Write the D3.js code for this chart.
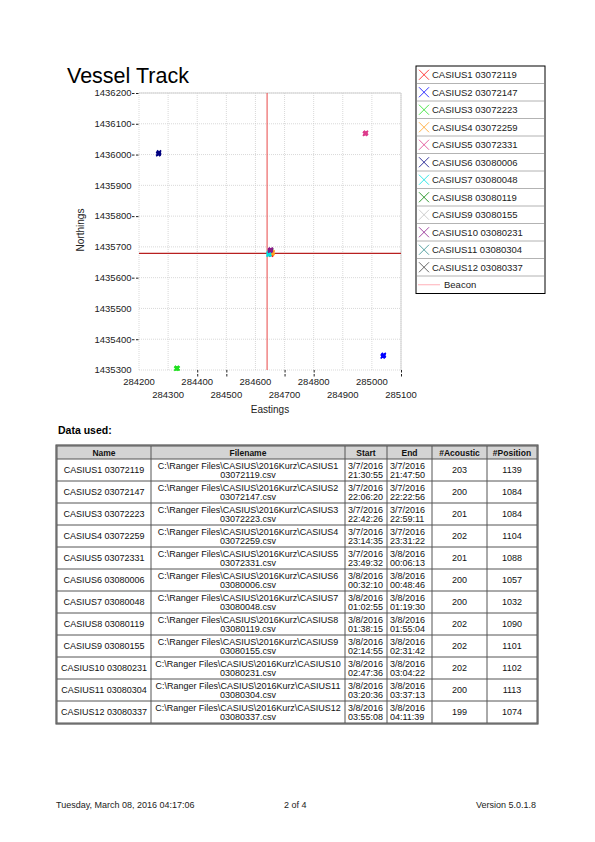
<!DOCTYPE html>
<html><head><meta charset="utf-8">
<script src="https://cdn.jsdelivr.net/npm/d3@7"></script>
<style>
body{margin:0;background:#fff;}
svg{display:block;font-family:"Liberation Sans",Arial,sans-serif;}
</style></head>
<body><svg id="c" width="595" height="842"></svg>
<script>
// ---------- chart data ----------
const eastTicks = [284200,284300,284400,284500,284600,284700,284800,284900,285000,285100];
const northTicks = [1435300,1435400,1435500,1435600,1435700,1435800,1435900,1436000,1436100,1436200];
const northTicksMarked = [1436200,1436100,1436000,1435800,1435600,1435400];
const eastTicksMarked = [284400,284500,284700,284800,285100];
const seriesNames = ["CASIUS1 03072119","CASIUS2 03072147","CASIUS3 03072223","CASIUS4 03072259","CASIUS5 03072331","CASIUS6 03080006","CASIUS7 03080048","CASIUS8 03080119","CASIUS9 03080155","CASIUS10 03080231","CASIUS11 03080304","CASIUS12 03080337"];
const seriesColors = ["#ff1010","#0000ff","#20e020","#ffa020","#dd3c8c","#000080","#00e0e0","#008000","#c0c0c0","#8a1a8a","#2e8b8b","#404040"];
const seriesEastings = [
  [284652,284655,284654,284656],
  [285037,285040,285039,285041],
  [284328,284331,284333,284330],
  [284656,284658,284657,284659],
  [284976,284979,284978,284980],
  [284266,284268,284269,284267],
  [284645,284647,284646,284648],
  [284650,284652,284651,284653],
  [284649,284651,284650,284652],
  [284650,284652,284651,284653],
  [284648,284650,284649,284651],
  [284651,284653,284652,284654]
];
const seriesNorthings = [
  [1435676,1435678,1435675,1435679],
  [1435344,1435347,1435346,1435349],
  [1435304,1435306,1435305,1435307],
  [1435679,1435681,1435678,1435682],
  [1436067,1436070,1436069,1436071],
  [1436001,1436004,1436007,1436003],
  [1435675,1435677,1435679,1435676],
  [1435683,1435685,1435684,1435686],
  [1435682,1435684,1435683,1435685],
  [1435688,1435690,1435689,1435691],
  [1435680,1435682,1435681,1435683],
  [1435686,1435688,1435687,1435689]
];
const beaconEasting = 284640;
const beaconNorthing = 1435679;

// ---------- table data ----------
const tableHeaders = ["Name","Filename","Start","End","#Acoustic","#Position"];
const tableFiles = ["C:\\Ranger Files\\CASIUS\\2016Kurz\\CASIUS1","C:\\Ranger Files\\CASIUS\\2016Kurz\\CASIUS2","C:\\Ranger Files\\CASIUS\\2016Kurz\\CASIUS3","C:\\Ranger Files\\CASIUS\\2016Kurz\\CASIUS4","C:\\Ranger Files\\CASIUS\\2016Kurz\\CASIUS5","C:\\Ranger Files\\CASIUS\\2016Kurz\\CASIUS6","C:\\Ranger Files\\CASIUS\\2016Kurz\\CASIUS7","C:\\Ranger Files\\CASIUS\\2016Kurz\\CASIUS8","C:\\Ranger Files\\CASIUS\\2016Kurz\\CASIUS9","C:\\Ranger Files\\CASIUS\\2016Kurz\\CASIUS10","C:\\Ranger Files\\CASIUS\\2016Kurz\\CASIUS11","C:\\Ranger Files\\CASIUS\\2016Kurz\\CASIUS12"];
const tableFiles2 = ["03072119.csv","03072147.csv","03072223.csv","03072259.csv","03072331.csv","03080006.csv","03080048.csv","03080119.csv","03080155.csv","03080231.csv","03080304.csv","03080337.csv"];
const startDates = ["3/7/2016","3/7/2016","3/7/2016","3/7/2016","3/7/2016","3/8/2016","3/8/2016","3/8/2016","3/8/2016","3/8/2016","3/8/2016","3/8/2016"];
const startTimes = ["21:30:55","22:06:20","22:42:26","23:14:35","23:49:32","00:32:10","01:02:55","01:38:15","02:14:55","02:47:36","03:20:36","03:55:08"];
const endDates = ["3/7/2016","3/7/2016","3/7/2016","3/7/2016","3/8/2016","3/8/2016","3/8/2016","3/8/2016","3/8/2016","3/8/2016","3/8/2016","3/8/2016"];
const endTimes = ["21:47:50","22:22:56","22:59:11","23:31:22","00:06:13","00:48:46","01:19:30","01:55:04","02:31:42","03:04:22","03:37:13","04:11:39"];
const acousticCounts = [203,200,201,202,201,200,200,202,202,202,200,199];
const positionCounts = [1139,1084,1084,1104,1088,1057,1032,1090,1101,1102,1113,1074];

const footerLeft = "Tuesday, March 08, 2016 04:17:06";
const footerMid = "2 of 4";
const footerRight = "Version 5.0.1.8";

// ---------- drawing ----------
const svg = d3.select("#c");
svg.append("rect").attr("width",595).attr("height",842).attr("fill","#fff");

const x = d3.scaleLinear().domain([284200,285100]).range([139,401]);
const y = d3.scaleLinear().domain([1435300,1436200]).range([370,93]);

svg.append("text").attr("x",67).attr("y",82.5).attr("font-size",21.5).attr("fill","#000").text("Vessel Track");

const g = svg.append("g");
// grid
g.selectAll(".vg").data(eastTicks).join("line")
  .attr("x1",d=>x(d)).attr("x2",d=>x(d)).attr("y1",y(1436200)).attr("y2",y(1435300))
  .attr("stroke","#c8c8c8").attr("stroke-width",0.7).attr("stroke-dasharray","1,1");
g.selectAll(".hg").data(northTicks).join("line")
  .attr("y1",d=>y(d)).attr("y2",d=>y(d)).attr("x1",x(284200)).attr("x2",x(285100))
  .attr("stroke","#c8c8c8").attr("stroke-width",0.7).attr("stroke-dasharray","1,1");
// top & right border
g.append("path").attr("d",`M${x(284200)},${y(1436200)}H${x(285100)}V${y(1435300)}`)
  .attr("fill","none").attr("stroke","#d0d0d0").attr("stroke-width",1);

// y axis labels
g.selectAll(".yl").data(northTicks).join("text")
  .attr("x",131.5).attr("y",d=>y(d)+3.3).attr("text-anchor","end").attr("font-size",9.5).attr("fill","#222")
  .text(d=>d);
g.selectAll(".yt").data(northTicksMarked).join("line")
  .attr("x1",132).attr("x2",139).attr("y1",d=>y(d)+0.5).attr("y2",d=>y(d)+0.5)
  .attr("stroke","#222").attr("stroke-width",1).attr("stroke-dasharray","2.5,1.5");
// x axis labels (alternating rows)
g.selectAll(".xl").data(eastTicks).join("text")
  .attr("x",d=>x(d)).attr("y",(d,i)=> i%2===0 ? 385 : 398).attr("text-anchor","middle")
  .attr("font-size",9.5).attr("fill","#222").text(d=>d);
g.selectAll(".xt").data(eastTicksMarked).join("line")
  .attr("x1",d=>x(d)+0.5).attr("x2",d=>x(d)+0.5).attr("y1",370).attr("y2",377)
  .attr("stroke","#222").attr("stroke-width",1).attr("stroke-dasharray","2.5,1.5");

svg.append("text").attr("transform","translate(84,230) rotate(-90)").attr("text-anchor","middle")
  .attr("font-size",10).attr("fill","#222").text("Northings");
svg.append("text").attr("x",270).attr("y",413).attr("text-anchor","middle")
  .attr("font-size",10).attr("fill","#222").text("Eastings");

// beacon lines
g.append("line").attr("x1",x(beaconEasting)).attr("x2",x(beaconEasting)).attr("y1",y(1436200)).attr("y2",y(1435300))
  .attr("stroke","#e84848").attr("stroke-width",1);
g.append("line").attr("y1",y(beaconNorthing)).attr("y2",y(beaconNorthing)).attr("x1",x(284200)).attr("x2",x(285100))
  .attr("stroke","#b82020").attr("stroke-width",1.2);

// points (X markers)
const drawOrder = [7,8,10,11,0,3,6,9,1,2,4,5];
drawOrder.forEach(si=>{
  const pts = seriesEastings[si].map((e,k)=>[e,seriesNorthings[si][k]]);
  g.selectAll(null).data(pts).join("path")
    .attr("d",d=>{const cx=x(d[0]),cy=y(d[1]),r=2;return `M${cx-r},${cy-r}L${cx+r},${cy+r}M${cx-r},${cy+r}L${cx+r},${cy-r}`;})
    .attr("stroke",seriesColors[si]).attr("stroke-width",1.6).attr("fill","none");
});

// legend
const lg = svg.append("g");
const lTop = 66, lRow = 17.5, lLeft = 416, lRight = 545;
const legendItems = seriesNames.concat(["Beacon"]);
lg.append("rect").attr("x",lLeft).attr("y",lTop).attr("width",lRight-lLeft).attr("height",lRow*legendItems.length)
  .attr("fill","#fff").attr("stroke","#000").attr("stroke-width",1);
lg.selectAll(".sep").data(d3.range(1,legendItems.length)).join("line")
  .attr("x1",lLeft+1).attr("x2",lRight-1).attr("y1",d=>lTop+d*lRow).attr("y2",d=>lTop+d*lRow)
  .attr("stroke","#a0a0a0").attr("stroke-width",0.8);
seriesNames.forEach((n,i)=>{
  const cy = lTop + lRow*i + lRow/2, cx = 424, r = 5;
  lg.append("path").attr("d",`M${cx-r},${cy-r}L${cx+r},${cy+r}M${cx-r},${cy+r}L${cx+r},${cy-r}`)
    .attr("stroke",seriesColors[i]).attr("stroke-width",0.8).attr("fill","none");
  lg.append("text").attr("x",432).attr("y",cy+3.3).attr("font-size",9.5).attr("fill","#222").text(n);
});
{
  const cy = lTop + lRow*seriesNames.length + lRow/2;
  lg.append("line").attr("x1",418).attr("x2",440).attr("y1",cy).attr("y2",cy).attr("stroke","#ffb0b8").attr("stroke-width",1);
  lg.append("text").attr("x",444).attr("y",cy+3.3).attr("font-size",9.5).attr("fill","#222").text("Beacon");
}

// data used
svg.append("text").attr("x",58).attr("y",434).attr("font-size",10.5).attr("font-weight","bold").text("Data used:");

// table
const colEdges = [57,151,345,387,432,487,537];
const tTop = 446, hH = 13, rH = 22;
const tg = svg.append("g").attr("font-size",9).attr("fill","#111");
// header
tg.append("rect").attr("x",colEdges[0]).attr("y",tTop).attr("width",colEdges[6]-colEdges[0]).attr("height",hH).attr("fill","#d4d4d4");
tableHeaders.forEach((h,c)=>{
  tg.append("text").attr("x",(colEdges[c]+colEdges[c+1])/2).attr("y",tTop+hH/2+3.2)
    .attr("text-anchor","middle").attr("font-weight","bold").attr("font-size",8.5).text(h);
});
// rows
seriesNames.forEach((n,r)=>{
  const ry = tTop + hH + r*rH, mid = ry + rH/2;
  const center = (c)=> (colEdges[c]+colEdges[c+1])/2;
  tg.append("text").attr("x",center(0)).attr("y",mid+3).attr("text-anchor","middle").text(n);
  tg.append("text").attr("x",center(1)).attr("y",mid-1).attr("text-anchor","middle").text(tableFiles[r]);
  tg.append("text").attr("x",center(1)).attr("y",mid+8).attr("text-anchor","middle").text(tableFiles2[r]);
  tg.append("text").attr("x",colEdges[2]+3).attr("y",mid-1).text(startDates[r]);
  tg.append("text").attr("x",colEdges[2]+3).attr("y",mid+8).text(startTimes[r]);
  tg.append("text").attr("x",colEdges[3]+3).attr("y",mid-1).text(endDates[r]);
  tg.append("text").attr("x",colEdges[3]+3).attr("y",mid+8).text(endTimes[r]);
  tg.append("text").attr("x",center(4)).attr("y",mid+3).attr("text-anchor","middle").text(acousticCounts[r]);
  tg.append("text").attr("x",center(5)).attr("y",mid+3).attr("text-anchor","middle").text(positionCounts[r]);
});
// grid lines of table
const tBottom = tTop + hH + seriesNames.length*rH;
const hLines = [tTop, tTop+hH].concat(seriesNames.map((d,i)=>tTop+hH+(i+1)*rH));
tg.selectAll(".th").data(hLines).join("line")
  .attr("x1",colEdges[0]).attr("x2",colEdges[6]).attr("y1",d=>d).attr("y2",d=>d)
  .attr("stroke","#555").attr("stroke-width",1);
tg.selectAll(".tv").data(colEdges).join("line")
  .attr("x1",d=>d).attr("x2",d=>d).attr("y1",tTop).attr("y2",tBottom)
  .attr("stroke","#555").attr("stroke-width",1);
tg.append("rect").attr("x",colEdges[0]-1).attr("y",tTop-1).attr("width",colEdges[6]-colEdges[0]+2).attr("height",tBottom-tTop+2)
  .attr("fill","none").attr("stroke","#333").attr("stroke-width",1);

// footer
const fg = svg.append("g").attr("font-size",9).attr("fill","#222");
fg.append("text").attr("x",56).attr("y",808).text(footerLeft);
fg.append("text").attr("x",284).attr("y",808).text(footerMid);
fg.append("text").attr("x",536).attr("y",808).attr("text-anchor","end").text(footerRight);
</script></body></html>
